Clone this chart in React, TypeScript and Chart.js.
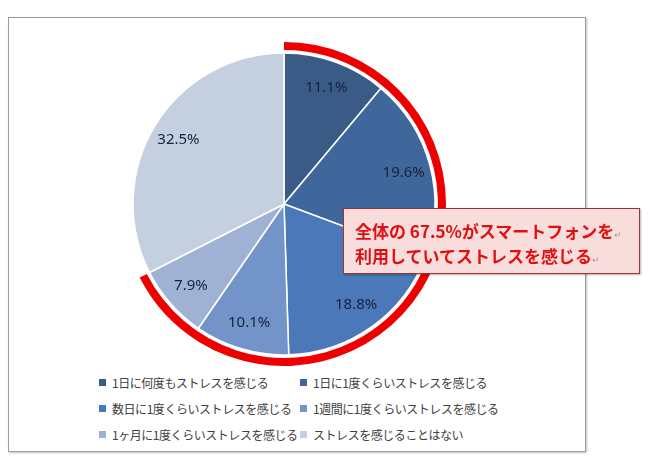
import { useEffect, useRef } from "react";
import { Chart, ArcElement, DoughnutController } from "chart.js";

Chart.register(ArcElement, DoughnutController);

const categories = [
  "1日に何度もストレスを感じる",
  "1日に1度くらいストレスを感じる",
  "数日に1度くらいストレスを感じる",
  "1週間に1度くらいストレスを感じる",
  "1ヶ月に1度くらいストレスを感じる",
  "ストレスを感じることはない",
];
const shares = [11.1, 19.6, 18.8, 10.1, 7.9, 32.5];
const sliceColors = ["#3b5b87", "#3f679c", "#4a78b8", "#7394c8", "#9fb2d4", "#c4cfe0"];

// share of people who feel stress from smartphone use vs. the rest
const highlightShare = [67.5, 32.5];
const calloutLines = ["全体の 67.5%がスマートフォンを", "利用していてストレスを感じる"];

const JP_FONT = "'Noto Sans CJK JP', 'Noto Sans', sans-serif";

const sliceLabels = {
  id: "sliceLabels",
  afterDatasetsDraw(chart: Chart) {
    const meta = chart.getDatasetMeta(2);
    const ctx = chart.ctx;
    ctx.save();
    ctx.font = "15px 'Noto Sans', sans-serif";
    ctx.fillStyle = "#17233f";
    ctx.textAlign = "center";
    ctx.textBaseline = "middle";
    meta.data.forEach((el: any, i: number) => {
      const { x, y, startAngle, endAngle, outerRadius } = el.getProps(
        ["x", "y", "startAngle", "endAngle", "outerRadius"],
        true
      );
      const mid = (startAngle + endAngle) / 2;
      const r = outerRadius * 0.82;
      ctx.fillText(shares[i].toFixed(1) + "%", x + Math.cos(mid) * r, y + Math.sin(mid) * r);
    });
    ctx.restore();
  },
};

export default function App() {
  const chartRef = useRef<HTMLCanvasElement>(null);
  const chartInstanceRef = useRef<Chart | null>(null);

  useEffect(() => {
    if (!chartRef.current) return;
    if (chartInstanceRef.current) chartInstanceRef.current.destroy();

    const ctx = chartRef.current.getContext("2d");
    if (!ctx) return;

    chartInstanceRef.current = new Chart(ctx, {
      type: "doughnut",
      data: {
        labels: categories,
        datasets: [
          {
            data: highlightShare,
            backgroundColor: ["#ee0000", "rgba(0,0,0,0)"],
            borderWidth: 0,
            weight: 8,
          },
          {
            data: [1],
            backgroundColor: ["rgba(0,0,0,0)"],
            borderWidth: 0,
            weight: 3,
          },
          {
            data: shares,
            backgroundColor: sliceColors,
            borderColor: "#ffffff",
            borderWidth: 1.5,
            weight: 150,
          },
        ],
      } as any,
      options: {
        responsive: false,
        animation: false,
        cutout: 0,
        layout: { padding: 0 },
        plugins: {
          legend: { display: false },
          tooltip: { enabled: false },
        },
      },
      plugins: [sliceLabels],
    });

    return () => {
      if (chartInstanceRef.current) {
        chartInstanceRef.current.destroy();
        chartInstanceRef.current = null;
      }
    };
  }, []);

  return (
    <div style={{ position: "absolute", left: 0, top: 0, width: 650, height: 465, background: "#fff" }}>
      {/* frame */}
      <div
        style={{
          position: "absolute",
          left: 8,
          top: 17,
          width: 576,
          height: 433,
          border: "1px solid #9c9c9c",
          boxShadow: "1px 1px 2px rgba(0,0,0,0.25)",
          background: "#fff",
        }}
      />
      <canvas
        ref={chartRef}
        width={324}
        height={324}
        style={{ position: "absolute", left: 122, top: 42, width: 324, height: 324 }}
      />
      {/* legend */}
      {categories.map((c, i) => {
        const col = i % 2;
        const row = Math.floor(i / 2);
        return (
          <div
            key={c}
            style={{
              position: "absolute",
              left: col === 0 ? 99 : 300,
              top: 382 + row * 26 - 9,
              height: 18,
              display: "flex",
              alignItems: "center",
              fontFamily: JP_FONT,
              fontSize: 12,
              letterSpacing: "-0.45px",
              color: "#404040",
              whiteSpace: "nowrap",
            }}
          >
            <span style={{ width: 7, height: 7, background: sliceColors[i], marginRight: 6, display: "inline-block" }} />
            {c}
          </div>
        );
      })}
      {/* callout */}
      <div
        style={{
          position: "absolute",
          left: 343,
          top: 208,
          width: 297,
          height: 66,
          background: "#f9dddd",
          border: "1px solid #9b3535",
          boxShadow: "1px 1px 2px rgba(0,0,0,0.3)",
          fontFamily: JP_FONT,
          fontWeight: 700,
          fontSize: 17,
          color: "#e01010",
          lineHeight: "21px",
          paddingTop: 11,
          paddingLeft: 11,
          boxSizing: "border-box",
          whiteSpace: "nowrap",
        }}
      >
        {calloutLines.map((l) => (
          <div key={l}>
            {l}
            <span style={{ fontSize: 9, fontWeight: 400, color: "#a0a0a0" }}>↵</span>
          </div>
        ))}
      </div>
    </div>
  );
}
